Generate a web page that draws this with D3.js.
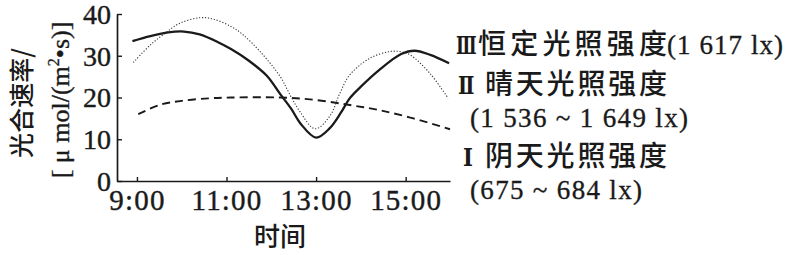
<!DOCTYPE html>
<html><head><meta charset="utf-8">
<script src="https://cdn.jsdelivr.net/npm/d3@7"></script>
<style>body{margin:0;background:#fff} svg{display:block}</style>
</head><body><svg id="c" width="786" height="255"></svg>
<script>
// ---- data ----
const xTicks = [9, 11, 13, 15];
const xTickLabels = ["9:00", "11:00", "13:00", "15:00"];
const yTicks = [0, 10, 20, 30, 40];

// III constant light (solid)
const timeIII = [8.9, 9.3, 9.7, 10.05, 10.4, 10.8, 11.1, 11.5, 11.9, 12.2, 12.45, 12.65, 13.0, 13.3, 13.55, 13.75, 14.0, 14.4, 14.9, 15.2, 15.55, 15.97];
const rateIII = [33.5, 34.7, 35.6, 35.8, 35.1, 33.3, 31.6, 28.8, 25.2, 20.8, 17.2, 13.8, 10.4, 12.6, 16.3, 19.8, 22.6, 26.5, 30.4, 31.2, 30.2, 28.2];
// II sunny (dotted)
const timeII = [8.92, 9.3, 9.63, 9.96, 10.4, 10.7, 11.1, 11.35, 11.75, 12.2, 12.42, 12.64, 12.98, 13.31, 13.53, 13.75, 14.2, 14.64, 14.87, 15.1, 15.54, 15.95];
const rateII = [28.4, 32.6, 35.4, 37.8, 39.1, 38.8, 37.0, 35.2, 31.0, 25.0, 20.6, 16.6, 12.5, 15.6, 21.0, 25.4, 29.4, 31.0, 31.0, 30.2, 25.8, 19.8];
// I cloudy (dashed)
const timeI = [9.03, 9.5, 10.0, 10.6, 11.1, 12.2, 13.0, 13.75, 14.4, 15.17, 15.99];
const rateI = [16.0, 18.2, 19.2, 19.8, 20.0, 20.0, 19.4, 18.2, 17.0, 15.0, 12.4];

const yTitle1 = "光合速率/";
const xTitle = "时间";

// ---- drawing ----
const svg = d3.select("#c");
const serif = "'Liberation Serif','Times New Roman',serif";
const roman = "'DejaVu Serif','Liberation Serif',serif";
const cjk = "'Noto Sans CJK SC','Noto Sans CJK JP',sans-serif";
const ink = "#1a1a1a";

const x = d3.scaleLinear().domain([8.555, 15.99]).range([117, 450]);
const y = d3.scaleLinear().domain([0, 40]).range([181, 14]);

// axes
const gx = svg.append("g").attr("transform", `translate(0,${y(0)})`)
  .call(d3.axisBottom(x).tickValues(xTicks).tickFormat((d, i) => xTickLabels[i])
    .tickSizeInner(-4).tickSizeOuter(0).tickPadding(0));
gx.select(".domain").attr("stroke", ink).attr("stroke-width", 1.7);
gx.selectAll(".tick line").attr("stroke", ink).attr("stroke-width", 1.4);
gx.selectAll(".tick text").attr("font-family", serif).attr("font-size", 29)
  .attr("fill", ink).attr("stroke", ink).attr("stroke-width", 0.4)
  .attr("letter-spacing", 1.2).attr("y", 29).attr("dy", 0);

const gy = svg.append("g").attr("transform", `translate(${x.range()[0]},0)`)
  .call(d3.axisLeft(y).tickValues(yTicks).tickSizeInner(-5).tickSizeOuter(0).tickPadding(6));
gy.select(".domain").attr("stroke", ink).attr("stroke-width", 1.7);
gy.selectAll(".tick line").attr("stroke", ink).attr("stroke-width", 1.4);
gy.selectAll(".tick text").attr("font-family", serif).attr("font-size", 28)
  .attr("fill", ink).attr("stroke", ink).attr("stroke-width", 0.4).attr("dy", "0.33em");

// curves
const line = d3.line().x(d => x(d[0])).y(d => y(d[1])).curve(d3.curveCatmullRom.alpha(0.5));
const zip = (a, b) => a.map((t, i) => [t, b[i]]);

svg.append("path").datum(zip(timeI, rateI)).attr("d", line)
  .attr("fill", "none").attr("stroke", ink).attr("stroke-width", 1.9).attr("stroke-dasharray", "8,5");
svg.append("path").datum(zip(timeII, rateII)).attr("d", line)
  .attr("fill", "none").attr("stroke", "#333").attr("stroke-width", 1.1).attr("stroke-dasharray", "1.2,1.8");
svg.append("path").datum(zip(timeIII, rateIII)).attr("d", line)
  .attr("fill", "none").attr("stroke", ink).attr("stroke-width", 2.3);

// y-axis title (two rotated lines)
svg.append("text").attr("transform", "translate(31,103) rotate(-90)")
  .attr("text-anchor", "middle").attr("font-family", cjk).attr("font-size", 25)
  .attr("font-weight", 500).attr("fill", ink).text(yTitle1);
const t2 = svg.append("text").attr("transform", "translate(69,100) rotate(-90)")
  .attr("text-anchor", "middle").attr("font-family", serif).attr("font-size", 26)
  .attr("fill", ink).attr("stroke", ink).attr("stroke-width", 0.35);
t2.append("tspan").text("[ μ mol/(m");
t2.append("tspan").attr("font-size", 16).attr("dy", -10).text("2");
t2.append("tspan").attr("dy", 10).text("•s)]");

// x-axis title
svg.append("text").attr("x", 280).attr("y", 246).attr("text-anchor", "middle")
  .attr("font-family", cjk).attr("font-size", 26).attr("font-weight", 500)
  .attr("fill", ink).text(xTitle);

// legend labels
function numeral(s, x0, yy, sx) {
  svg.append("text").attr("transform", `translate(${x0},${yy}) scale(${sx},1)`)
    .attr("font-family", roman).attr("font-size", 25).attr("font-weight", 700)
    .attr("fill", ink).text(s);
}
function label(parts, yy) {
  parts.forEach(p => {
    const t = svg.append("text").attr("x", p.x).attr("y", yy)
      .attr("font-family", p.font).attr("font-size", p.size)
      .attr("font-weight", p.font === cjk ? 500 : 400)
      .attr("fill", ink).text(p.s);
    if (p.font === serif) t.attr("stroke", ink).attr("stroke-width", 0.35);
    if (p.w) t.attr("textLength", p.w).attr("lengthAdjust", "spacing");
  });
}
numeral("Ⅲ", 456, 54, 0.68);
label([{s: "恒定光照强度", x: 478, size: 28, font: cjk, w: 189},
       {s: "(1 617 lx)", x: 667, size: 27, font: serif, w: 116}], 54);
numeral("Ⅱ", 458, 94, 0.78);
label([{s: "晴天光照强度", x: 485, size: 28, font: cjk, w: 182}], 94);
label([{s: "(1 536 ~ 1 649 lx)", x: 470, size: 27, font: serif, w: 218}], 127);
numeral("Ⅰ", 463, 166, 0.85);
label([{s: "阴天光照强度", x: 485, size: 28, font: cjk, w: 182}], 166);
label([{s: "(675 ~ 684 lx)", x: 470, size: 27, font: serif, w: 172}], 199);
</script></body></html>
